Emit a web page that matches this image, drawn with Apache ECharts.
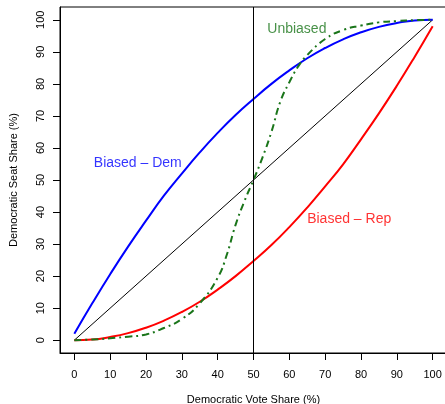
<!DOCTYPE html>
<html>
<head>
<meta charset="utf-8">
<script src="https://cdn.jsdelivr.net/npm/echarts@6/dist/echarts.min.js"></script>
<style>
  html, body { margin: 0; padding: 0; background: #fff; }
  #chart { width: 445px; height: 404px; }
</style>
</head>
<body>
<div id="chart"></div>
<script>
// vote share (x) and seat share (y)
var voteShare = [0, 5, 10, 15, 20, 25, 30, 35, 40, 45, 50, 55, 60, 65, 70, 75, 80, 85, 90, 95, 100];
var seatsDem = [2, 11.5, 20.6, 29.2, 37.3, 45.1, 52, 58.6, 64.7, 70.3, 75.3, 80, 84.2, 88, 91.2, 93.9, 96.1, 97.8, 99, 99.8, 100];
var seatsRep = [0, 0.2, 1, 2.2, 3.9, 6.1, 8.8, 12, 15.8, 20, 24.7, 29.7, 35.3, 41.4, 48, 54.9, 62.7, 70.8, 79.4, 88.5, 98];

var voteUnbiased = [0, 5, 10, 15, 20, 25, 30, 35, 40, 42.5, 45, 47.5, 50, 52.5, 55, 57.5, 60, 62.5, 65, 70, 75, 80, 85, 90, 95, 100];
var seatsUnbiased = [0, 0.2, 0.6, 1.1, 1.8, 3.8, 6.6, 11.5, 19.5, 26.5, 36, 43.5, 50, 57, 65, 74.5, 80.5, 85.5, 89, 94, 96.8, 98.2, 99.2, 99.6, 99.9, 100];

var diagonal = [[0, 0], [100, 100]];
var tickValues = [0, 10, 20, 30, 40, 50, 60, 70, 80, 90, 100];

var labelDem = { text: 'Biased – Dem', x: 17.7, y: 55.2 };
var labelRep = { text: 'Biased – Rep', x: 76.7, y: 37.8 };
var labelUnb = { text: 'Unbiased', x: 62.1, y: 97 };

function pairs(xs, ys) {
    var out = [];
    for (var i = 0; i < xs.length; i++) out.push([xs[i], ys[i]]);
    return out;
}

function textSeries(lab, color) {
    return {
        type: 'scatter',
        data: [[lab.x, lab.y]],
        symbolSize: 2,
        itemStyle: { color: 'rgba(0,0,0,0)' },
        silent: true,
        z: 5,
        label: {
            show: true,
            position: 'inside',
            formatter: lab.text,
            color: color,
            fontSize: 14,
            fontFamily: 'Liberation Sans'
        }
    };
}

var chart = echarts.init(document.getElementById('chart'));
var font = 'Liberation Sans';

chart.setOption({
    animation: false,
    backgroundColor: '#fff',
    grid: {
        show: true,
        left: 60, right: -2, top: 7, bottom: 51,
        outerBoundsMode: 'none',
        containLabel: false,
        borderColor: '#000', borderWidth: 1,
        backgroundColor: 'transparent'
    },
    xAxis: {
        type: 'value',
        position: 'bottom',
        min: -4, max: 104,
        name: 'Democratic Vote Share (%)',
        nameLocation: 'middle',
        nameGap: 41,
        nameTextStyle: { color: '#000', fontSize: 11, fontFamily: font },
        axisLine: { show: true, onZero: false, lineStyle: { color: '#000', width: 1 } },
        splitLine: { show: false },
        axisTick: { show: true, inside: false, customValues: tickValues, length: 7, lineStyle: { color: '#000' } },
        axisLabel: { customValues: tickValues, inside: false, color: '#000', fontSize: 11, fontFamily: font, margin: 16 }
    },
    yAxis: {
        type: 'value',
        position: 'left',
        min: -4, max: 104,
        name: 'Democratic Seat Share (%)',
        nameLocation: 'middle',
        nameGap: 41,
        nameTextStyle: { color: '#000', fontSize: 11, fontFamily: font },
        axisLine: { show: true, onZero: false, lineStyle: { color: '#000', width: 1 } },
        splitLine: { show: false },
        axisTick: { show: true, inside: false, customValues: tickValues, length: 7, lineStyle: { color: '#000' } },
        axisLabel: { customValues: tickValues, inside: false, rotate: 90, color: '#000', fontSize: 11, fontFamily: font, margin: 14 }
    },
    series: [
        {
            type: 'line',
            data: diagonal,
            showSymbol: false,
            lineStyle: { color: '#000', width: 1 },
            markLine: {
                symbol: 'none',
                silent: true,
                label: { show: false },
                lineStyle: { color: '#000', width: 1, type: 'solid' },
                data: [{ xAxis: 50 }]
            }
        },
        {
            type: 'line',
            data: pairs(voteShare, seatsDem),
            smooth: true,
            showSymbol: false,
            lineStyle: { color: '#0000ff', width: 2 }
        },
        {
            type: 'line',
            data: pairs(voteShare, seatsRep),
            smooth: true,
            showSymbol: false,
            lineStyle: { color: '#ff0000', width: 2 }
        },
        {
            type: 'line',
            data: pairs(voteUnbiased, seatsUnbiased),
            smooth: true,
            showSymbol: false,
            lineStyle: { color: '#1a751a', width: 2, type: [7, 4, 2, 4] }
        },
        textSeries(labelDem, '#0000ff'),
        textSeries(labelRep, '#ff0000'),
        textSeries(labelUnb, '#1a751a')
    ]
});
</script>
</body>
</html>
